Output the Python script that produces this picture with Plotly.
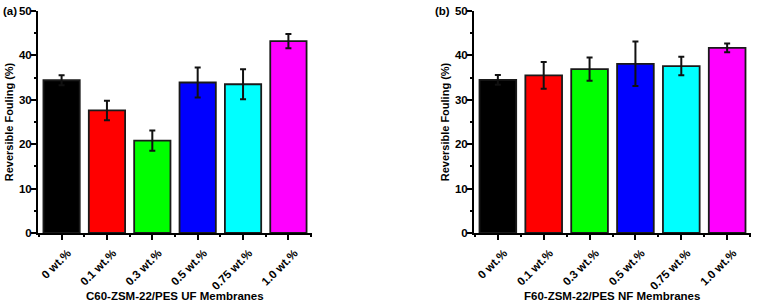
import plotly.graph_objects as go

categories = ["0 wt.%", "0.1 wt.%", "0.3 wt.%", "0.5 wt.%", "0.75 wt.%", "1.0 wt.%"]
colors = ["#000000", "#ff0000", "#00ff00", "#0000ff", "#00ffff", "#ff00ff"]

uf_values = [34.4, 27.6, 20.8, 33.9, 33.5, 43.2]
uf_errors = [1.1, 2.2, 2.3, 3.4, 3.4, 1.6]

nf_values = [34.5, 35.5, 36.9, 38.1, 37.6, 41.7]
nf_errors = [1.1, 3.0, 2.6, 5.0, 2.1, 1.0]

y_ticks = [0, 10, 20, 30, 40, 50]

FONT = "Arial, Liberation Sans, sans-serif"
xs = list(range(len(categories)))

fig = go.Figure()
for i, (vals, errs) in enumerate([(uf_values, uf_errors), (nf_values, nf_errors)]):
    fig.add_trace(go.Bar(
        x=xs, y=vals, width=0.8,
        marker=dict(color=colors, line=dict(color="#1a1a1a", width=1.8)),
        error_y=dict(type="data", array=errs, visible=True, color="#111111", thickness=2, width=3),
        xaxis="x" if i == 0 else "x2", yaxis="y" if i == 0 else "y2",
        showlegend=False, hoverinfo="skip",
    ))

def xaxis(domain, anchor):
    return dict(
        domain=domain, anchor=anchor, range=[-0.52, 5.52], automargin=False,
        tickvals=xs, ticktext=categories, tickangle=-45,
        ticks="outside", ticklen=5, tickwidth=1.5, tickcolor="black",
        ticklabelshift=6, ticklabelstandoff=2,
        minor=dict(tickvals=[-0.5, 0.5, 1.5, 2.5, 3.5, 4.5, 5.5], ticks="outside", ticklen=2, tickwidth=1.5, tickcolor="black"),
        showline=True, linecolor="black", linewidth=2, showgrid=False, zeroline=False,
        tickfont=dict(family=FONT, size=11.5, color="black", weight="bold"),
        fixedrange=True,
    )

def yaxis(anchor):
    return dict(
        domain=[0.236, 0.964], anchor=anchor, range=[0, 50], automargin=False,
        tickvals=y_ticks, ticks="outside", ticklen=5, tickwidth=1.5, tickcolor="black",
        ticklabelstandoff=-3,
        minor=dict(tickvals=[5, 15, 25, 35, 45], ticks="outside", ticklen=2, tickwidth=1.5, tickcolor="black"),
        showline=True, linecolor="black", linewidth=2, showgrid=False, zeroline=False,
        tickfont=dict(family=FONT, size=11.5, color="black", weight="bold"),
        title=dict(text="Reversible Fouling (%)", font=dict(family=FONT, size=11, color="black", weight="bold"), standoff=3),
        fixedrange=True,
    )

fig.update_layout(
    width=758, height=305,
    margin=dict(l=0, r=0, t=0, b=0),
    paper_bgcolor="white", plot_bgcolor="white",
    bargap=0.2,
    xaxis=xaxis([38/758, 312/758], "y"),
    yaxis=yaxis("x"),
    xaxis2=xaxis([474/758, 751/758], "y2"),
    yaxis2=yaxis("x2"),
    annotations=[
        dict(text="(a)", x=1/758, y=1 - 11/305, xref="paper", yref="paper", xanchor="left", yanchor="middle",
             showarrow=False, font=dict(family=FONT, size=11.5, color="black", weight="bold")),
        dict(text="(b)", x=433/758, y=1 - 11/305, xref="paper", yref="paper", xanchor="left", yanchor="middle",
             showarrow=False, font=dict(family=FONT, size=11.5, color="black", weight="bold")),
        dict(text="C60-ZSM-22/PES UF Membranes", x=175/758, y=1 - 296/305, xref="paper", yref="paper",
             xanchor="center", yanchor="middle", showarrow=False,
             font=dict(family=FONT, size=11.5, color="black", weight="bold")),
        dict(text="F60-ZSM-22/PES NF Membranes", x=612/758, y=1 - 296/305, xref="paper", yref="paper",
             xanchor="center", yanchor="middle", showarrow=False,
             font=dict(family=FONT, size=11.5, color="black", weight="bold")),
    ],
)

fig.write_html("out.html", config={"displayModeBar": False},
               post_script="document.body.style.margin='0';document.body.style.overflow='hidden';")
